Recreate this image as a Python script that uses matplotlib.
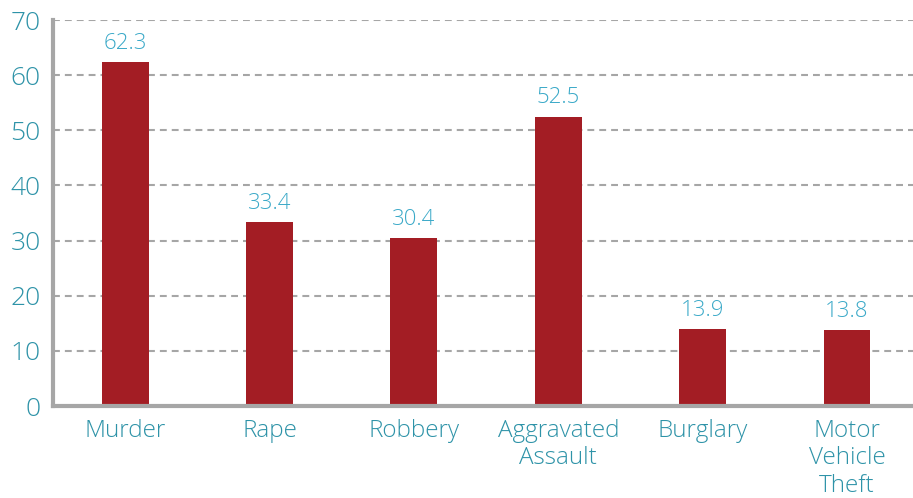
import numpy as np
import matplotlib.pyplot as plt

categories = ["Murder", "Rape", "Robbery", "Aggravated\nAssault", "Burglary", "Motor\nVehicle\nTheft"]
values = [62.3, 33.4, 30.4, 52.5, 13.9, 13.8]
yticks = [0, 10, 20, 30, 40, 50, 60, 70]

bar_color = "#A31D24"
tick_color = "#2E93A8"
label_color = "#3AA9C8"
axis_gray = "#A6A6A6"

plt.rcParams['font.family'] = ['Open Sans', 'DejaVu Sans']
plt.rcParams['font.weight'] = 'light'

fig = plt.figure(figsize=(9.13, 4.98), dpi=100)
ax = fig.add_axes([53 / 913, 92 / 498, (913 - 53) / 913, 386 / 498])

x = np.arange(len(categories))
ax.bar(x, values, width=0.325, color=bar_color, zorder=3)

for xi, v in zip(x, values):
    ax.text(xi, v + 1.5, f"{v:.1f}", ha="center", va="bottom",
            color=label_color, fontsize=16)

ax.set_xlim(-0.5, (913 - 125) / 144.4)
ax.set_ylim(0, 70)
ax.set_yticks(yticks)
ax.set_xticks(x)
ax.set_xticklabels(categories, linespacing=1.22)

ax.yaxis.grid(True, linestyle=(0, (3.3, 2.4)), color=axis_gray, linewidth=1.5, zorder=0)
ax.xaxis.grid(False)

for s in ["top", "right"]:
    ax.spines[s].set_visible(False)
for s in ["left", "bottom"]:
    ax.spines[s].set_color(axis_gray)
    ax.spines[s].set_linewidth(3)
    ax.spines[s].set_zorder(4)

ax.tick_params(axis="y", length=0, pad=9, labelsize=19, labelcolor=tick_color)
ax.tick_params(axis="x", length=0, pad=9, labelsize=17.5, labelcolor=tick_color)

fig.savefig("out.png", dpi=100)
